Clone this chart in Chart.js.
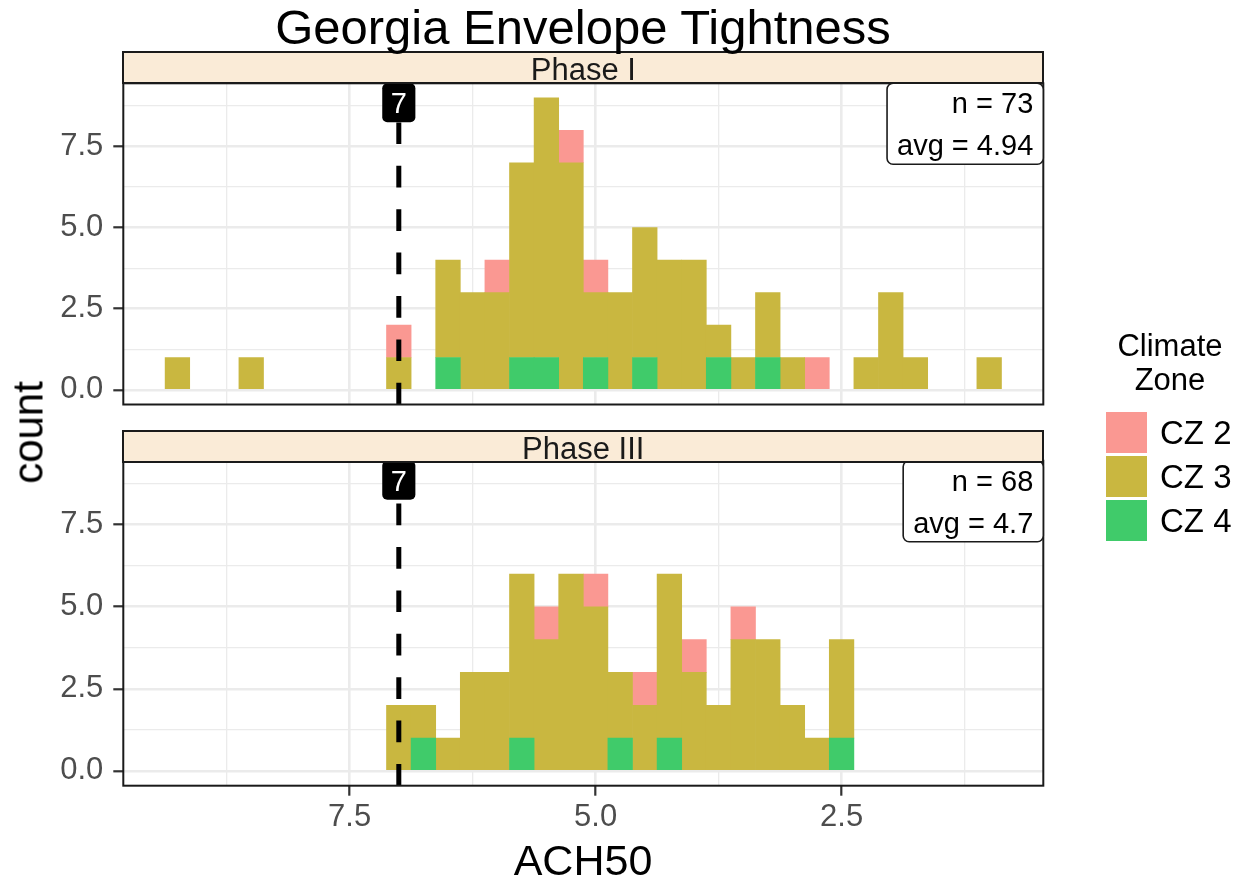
<!DOCTYPE html>
<html>
<head>
<meta charset="utf-8">
<script src="https://cdn.jsdelivr.net/npm/chart.js@4.4.1/dist/chart.umd.min.js"></script>
<style>
  html, body { margin: 0; padding: 0; background: #ffffff; }
  body { width: 1244px; height: 882px; position: relative; overflow: hidden;
         font-family: "Liberation Sans", Arial, Helvetica, sans-serif; }
  .abs { position: absolute; white-space: nowrap; }
  canvas { position: absolute; left: 0; }
  #title { left: 0; width: 1166px; top: 3px; font-size: 49px; line-height: 48px; text-align: center; color: #000; z-index: 3; }
  .strip { position: absolute; left: 122.3px; width: 922px; height: 33px; box-sizing: border-box;
           border: 2px solid #1A1A1A; background: #FAEBD7; font-size: 31px; line-height: 29px;
           padding-top: 2px; text-align: center; color: #1A1A1A; z-index: 2; }
  #xTitle { left: 0; width: 1166px; top: 840px; font-size: 43px; line-height: 41px; text-align: center; color: #000; }
  #yTitle { left: -72.2px; top: 412px; width: 200px; font-size: 42px; line-height: 41px; text-align: center;
            color: #000; transform: rotate(-90deg); }
  #legTitle { left: 1100px; width: 140px; top: 329px; font-size: 31px; line-height: 34px; text-align: center; color: #000; }
  .key { position: absolute; left: 1106px; width: 41px; height: 41px; }
  .keyLab { position: absolute; left: 1160px; font-size: 33px; line-height: 41px; color: #000; white-space: nowrap; }
</style>
</head>
<body>
<div id="title" class="abs">Georgia Envelope Tightness</div>
<div id="strip1" class="strip" style="top:51.3px"></div>
<div id="strip2" class="strip" style="top:429.7px"></div>
<canvas id="cA" width="1244" height="430" style="top:0px"></canvas>
<canvas id="cB" width="1244" height="452" style="top:430px"></canvas>
<div id="xTitle" class="abs">ACH50</div>
<div id="yTitle" class="abs">count</div>
<div id="legTitle" class="abs">Climate<br>Zone</div>
<div id="legend"></div>

<script>
// ---------------- DATA ----------------
const binCenters = [9.25, 9.0, 8.75, 8.5, 8.25, 8.0, 7.75, 7.5, 7.25, 7.0,
                    6.75, 6.5, 6.25, 6.0, 5.75, 5.5, 5.25, 5.0, 4.75, 4.5,
                    4.25, 4.0, 3.75, 3.5, 3.25, 3.0, 2.75, 2.5, 2.25, 2.0,
                    1.75, 1.5, 1.25, 1.0];

const phaseNames = ["Phase I", "Phase III"];
const zoneLabels = ["CZ 2", "CZ 3", "CZ 4"];
const zoneColors = ["rgb(250,152,146)", "rgb(201,183,64)", "rgb(64,203,106)"];

const phase1CZ2 = [0,0,0,0,0,0,0,0,0,1, 0,0,0,1,0,0,1,1,0,0, 0,0,0,0,0,0,1,0,0,0, 0,0,0,0];
const phase1CZ3 = [1,0,0,1,0,0,0,0,0,1, 0,3,3,3,6,8,7,2,3,4, 4,4,1,1,2,1,0,0,1,3, 1,0,0,1];
const phase1CZ4 = [0,0,0,0,0,0,0,0,0,0, 0,1,0,0,1,1,0,1,0,1, 0,0,1,0,1,0,0,0,0,0, 0,0,0,0];

const phase3CZ2 = [0,0,0,0,0,0,0,0,0,0, 0,0,0,0,0,1,0,1,0,1, 0,1,0,1,0,0,0,0,0,0, 0,0,0,0];
const phase3CZ3 = [0,0,0,0,0,0,0,0,0,2, 1,1,3,3,5,4,6,5,2,2, 5,3,2,4,4,2,1,3,0,0, 0,0,0,0];
const phase3CZ4 = [0,0,0,0,0,0,0,0,0,0, 1,0,0,0,1,0,0,0,1,0, 1,0,0,0,0,0,0,1,0,0, 0,0,0,0];

const refLine = 7;
const refLabel = "7";
const statsN = ["73", "68"];
const statsAvg = ["4.94", "4.7"];

const xMajorTicks = [7.5, 5.0, 2.5];
const xMajorLabels = ["7.5", "5.0", "2.5"];
const xMinorTicks = [8.75, 6.25, 3.75, 1.25];
const yMajorTicks = [0, 2.5, 5.0, 7.5];
const yMajorLabels = ["0.0", "2.5", "5.0", "7.5"];
const yMinorTicks = [1.25, 3.75, 6.25, 8.75];
const xRange = [0.45, 9.8];
const yRange = [-0.45, 9.45];

// ---------------- BUILD ----------------
const FONT = '"Liberation Sans", Arial, Helvetica, sans-serif';
document.getElementById('strip1').textContent = phaseNames[0];
document.getElementById('strip2').textContent = phaseNames[1];

// legend
const leg = document.getElementById('legend');
zoneLabels.forEach((lab, i) => {
  const top = 412 + i * 44;
  const k = document.createElement('div');
  k.className = 'key'; k.style.top = top + 'px'; k.style.background = zoneColors[i];
  leg.appendChild(k);
  const t = document.createElement('div');
  t.className = 'keyLab'; t.style.top = top + 'px'; t.textContent = lab;
  leg.appendChild(t);
});

function roundRectPath(ctx, x, y, w, h, r) {
  ctx.beginPath();
  ctx.moveTo(x + r, y);
  ctx.lineTo(x + w - r, y);
  ctx.arcTo(x + w, y, x + w, y + r, r);
  ctx.lineTo(x + w, y + h - r);
  ctx.arcTo(x + w, y + h, x + w - r, y + h, r);
  ctx.lineTo(x + r, y + h);
  ctx.arcTo(x, y + h, x, y + h - r, r);
  ctx.lineTo(x, y + r);
  ctx.arcTo(x, y, x + r, y, r);
  ctx.closePath();
}

const panelPlugin = {
  id: 'panelDeco',
  afterDatasetsDraw(chart, args, opts) {
    const ctx = chart.ctx, a = chart.chartArea, xs = chart.scales.x;
    ctx.save();
    // dashed reference line
    const px = xs.getPixelForValue(refLine);
    ctx.strokeStyle = '#000';
    ctx.lineWidth = 5;
    ctx.lineCap = 'butt';
    ctx.setLineDash([21.7, 21.7]);
    ctx.beginPath();
    ctx.moveTo(px, a.bottom);
    ctx.lineTo(px, a.top);
    ctx.stroke();
    ctx.setLineDash([]);
    // panel border
    ctx.lineWidth = 2;
    ctx.strokeStyle = '#1A1A1A';
    ctx.strokeRect(a.left, a.top, a.right - a.left, a.bottom - a.top);
    // reference label
    ctx.font = '29px ' + FONT;
    const tw = ctx.measureText(refLabel).width;
    const bw = tw + 17, bh = 39;
    roundRectPath(ctx, px - bw / 2, a.top, bw, bh, 5);
    ctx.fillStyle = '#000';
    ctx.fill();
    ctx.fillStyle = '#fff';
    ctx.textAlign = 'center';
    ctx.textBaseline = 'alphabetic';
    ctx.fillText(refLabel, px, a.top + 30);
    // stats box
    const l1 = 'n = ' + statsN[opts.idx];
    const l2 = 'avg = ' + statsAvg[opts.idx];
    const w = Math.max(ctx.measureText(l1).width, ctx.measureText(l2).width) + 20;
    roundRectPath(ctx, a.right - w, a.top, w, 81, 6);
    ctx.fillStyle = '#fff';
    ctx.fill();
    ctx.lineWidth = 1.6;
    ctx.strokeStyle = '#1A1A1A';
    ctx.stroke();
    ctx.fillStyle = '#000';
    ctx.textAlign = 'right';
    ctx.fillText(l1, a.right - 10, a.top + 30);
    ctx.fillText(l2, a.right - 10, a.top + 72);
    ctx.restore();
  }
};

function isMajor(list, v) { return list.some(m => Math.abs(m - v) < 1e-6); }

function makeChart(canvasId, counts, idx, geom) {
  const order = [2, 1, 0]; // CZ4 bottom, CZ3 middle, CZ2 top
  const datasets = order.map(z => ({
    label: zoneLabels[z],
    data: binCenters.map((b, i) => ({ x: b, y: counts[z][i] > 0 ? counts[z][i] : null })),
    backgroundColor: zoneColors[z],
    borderWidth: 0,
    barPercentage: 1,
    categoryPercentage: 1,
    stack: 'all'
  }));
  const xTicksAll = xMajorTicks.concat(xMinorTicks);
  const yTicksAll = yMajorTicks.concat(yMinorTicks);
  return new Chart(document.getElementById(canvasId), {
    type: 'bar',
    data: { datasets },
    options: {
      responsive: false,
      animation: false,
      devicePixelRatio: 1,
      layout: { autoPadding: false, padding: { top: geom.padTop, left: 0, right: geom.padRight, bottom: 0 } },
      plugins: { legend: { display: false }, tooltip: { enabled: false }, panelDeco: { idx } },
      scales: {
        x: {
          type: 'linear', reverse: true, min: xRange[0], max: xRange[1],
          offset: false, stacked: true,
          afterBuildTicks: s => { s.ticks = xTicksAll.map(v => ({ value: v })); },
          afterFit: s => { s.height = geom.xAxisH; },
          border: { display: false },
          grid: {
            offset: false, drawTicks: geom.showX, tickLength: 10, tickWidth: 2.2,
            color: '#EBEBEB',
            lineWidth: c => (c.tick && isMajor(xMajorTicks, c.tick.value)) ? 2.6 : 1.3,
            tickColor: c => (c.tick && isMajor(xMajorTicks, c.tick.value)) ? '#333333' : 'rgba(0,0,0,0)'
          },
          ticks: {
            display: geom.showX, autoSkip: false, maxRotation: 0, minRotation: 0, padding: 6,
            color: '#4D4D4D', font: { family: FONT, size: 31, lineHeight: 1 },
            callback: v => { const k = xMajorTicks.findIndex(m => Math.abs(m - v) < 1e-6); return k >= 0 ? xMajorLabels[k] : ''; }
          }
        },
        y: {
          type: 'linear', min: yRange[0], max: yRange[1], stacked: true,
          afterBuildTicks: s => { s.ticks = yTicksAll.map(v => ({ value: v })); },
          afterFit: s => { s.width = 123.3; },
          border: { display: false },
          grid: {
            drawTicks: true, tickLength: 10, tickWidth: 2.2,
            color: '#EBEBEB',
            lineWidth: c => (c.tick && isMajor(yMajorTicks, c.tick.value)) ? 2.6 : 1.3,
            tickColor: c => (c.tick && isMajor(yMajorTicks, c.tick.value)) ? '#333333' : 'rgba(0,0,0,0)'
          },
          ticks: {
            autoSkip: false, padding: 10,
            color: '#4D4D4D', font: { family: FONT, size: 31, lineHeight: 1 },
            callback: v => { const k = yMajorTicks.findIndex(m => Math.abs(m - v) < 1e-6); return k >= 0 ? yMajorLabels[k] : ''; }
          }
        }
      }
    },
    plugins: [panelPlugin]
  });
}

makeChart('cA', [phase1CZ2, phase1CZ3, phase1CZ4], 0,
  { padTop: 83.3, padRight: 200.7, xAxisH: 21.7, showX: false });
makeChart('cB', [phase3CZ2, phase3CZ3, phase3CZ4], 1,
  { padTop: 30.7, padRight: 200.7, xAxisH: 96.3, showX: true });
</script>
</body>
</html>
